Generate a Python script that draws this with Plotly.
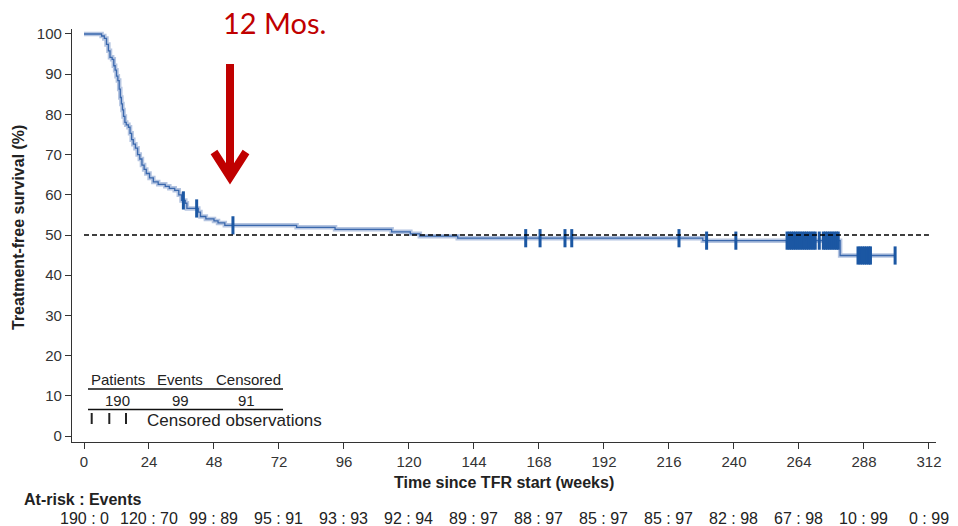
import numpy as np
import plotly.graph_objects as go

# ---------------- data ----------------
step_weeks = [0, 6.5, 7.5, 8.3, 9.0, 9.6, 10.4, 11.0, 11.5, 12.0, 12.5, 13.0, 13.4, 13.8,
              14.2, 14.6, 15.1, 15.6, 16.4, 17.0, 17.6, 18.2, 19.0, 19.8, 20.6, 21.4, 22.2,
              23.0, 24.2, 25.6, 27.4, 30.0, 31.5, 33.5, 35.0, 36.0, 37.4, 38.0, 42.2, 43.0,
              45.0, 48.0, 49.5, 52.0, 78.5, 92.7, 113.6, 120.5, 124.0, 138.0, 228.5, 279.2]
step_surv = [100, 99.5, 98.9, 97.4, 95.8, 94.2, 93.7, 92.1, 91.0, 89.5, 88.4, 86.3, 84.2, 82.6,
             81.1, 79.5, 78.0, 77.4, 76.8, 75.3, 73.7, 72.6, 71.6, 70.0, 68.9, 67.4, 66.3,
             65.3, 64.2, 63.2, 62.6, 62.1, 61.6, 61.1, 60.0, 58.6, 57.9, 56.6, 55.7, 54.6,
             54.0, 53.5, 53.0, 52.4, 51.9, 51.4, 50.8, 50.3, 49.7, 49.2, 48.6, 44.9]
last_followup = 299.5

censor_weeks = [36.7, 41.6, 55.0, 163.1, 168.4, 177.6, 180.1, 219.7, 229.9, 240.7,
                259.6, 260.4, 261.2, 262.0, 262.8, 263.6, 264.4, 265.2, 266.0, 266.8,
                267.6, 268.4, 269.2, 270.0, 271.5, 273.0, 273.8, 274.6, 275.4, 276.2,
                277.0, 277.8, 278.5, 285.8, 286.6, 287.4, 288.2, 289.0, 289.8, 290.4, 299.5]

x_ticks = [0, 24, 48, 72, 96, 120, 144, 168, 192, 216, 240, 264, 288, 312]
y_ticks = [0, 10, 20, 30, 40, 50, 60, 70, 80, 90, 100]
at_risk = [190, 120, 99, 95, 93, 92, 89, 88, 85, 85, 82, 67, 10, 0]
events = [0, 70, 89, 91, 93, 94, 97, 97, 97, 97, 98, 98, 99, 99]

summary_patients, summary_events, summary_censored = 190, 99, 91
reference_level = 50

# ---------------- figure ----------------
W, H = 958, 526
L, R, T, B = 72, 22, 29, 84
PW, PH = W - L - R, H - T - B


def px(xp):
    return (xp - L) / PW


def py(yp):
    return (H - B - yp) / PH


FONT = "Liberation Sans, Arial, sans-serif"
TXT = "#222222"

curve_x = step_weeks + [last_followup]
curve_y = step_surv + [step_surv[-1]]

sw = np.array(step_weeks)
ss = np.array(step_surv)
cens_y = [float(ss[np.searchsorted(sw, t, side="right") - 1]) for t in censor_weeks]

fig = go.Figure()
fig.add_trace(go.Scatter(x=curve_x, y=curve_y, mode="lines", line_shape="hv",
                         line=dict(color="rgba(150,173,212,0.7)", width=4.5),
                         hoverinfo="skip", showlegend=False))
fig.add_trace(go.Scatter(x=curve_x, y=curve_y, mode="lines", line_shape="hv",
                         line=dict(color="#3a68ad", width=1.3),
                         showlegend=False))
fig.add_trace(go.Scatter(x=censor_weeks, y=cens_y, mode="markers",
                         marker=dict(symbol="line-ns", size=13,
                                     line=dict(color="#1b57a3", width=3)),
                         showlegend=False))

shapes = []
# reference line at 50%
shapes.append(dict(type="line", xref="x", yref="y", x0=0, x1=x_ticks[-1],
                   y0=reference_level, y1=reference_level,
                   line=dict(color="black", width=1.3, dash="5px,3px")))

# legend-like box
for yy in (389, 409.5):
    shapes.append(dict(type="line", xref="paper", yref="paper", x0=px(88), x1=px(283),
                       y0=py(yy), y1=py(yy), line=dict(color="#111", width=1.3)))
for xx in (91.7, 109.3, 126):
    shapes.append(dict(type="line", xref="paper", yref="paper", x0=px(xx), x1=px(xx),
                       y0=py(413), y1=py(424), line=dict(color="#222", width=2)))

# red arrow
RED = "#c00000"
shapes.append(dict(type="line", xref="paper", yref="paper", x0=px(230), x1=px(230),
                   y0=py(64), y1=py(176), line=dict(color=RED, width=8)))
shapes.append(dict(type="path", xref="paper", yref="paper",
                   path=f"M {px(214)},{py(152)} L {px(230)},{py(177)} L {px(246)},{py(152)}",
                   line=dict(color=RED, width=8)))


def text(s, xpix, ypix, size, xanchor="center", family=FONT, color=TXT, **kw):
    return dict(text=s, x=px(xpix), y=py(ypix), xref="paper", yref="paper",
                xanchor=xanchor, yanchor="middle", showarrow=False,
                font=dict(family=family, size=size, color=color), **kw)


ann = []
ann.append(text("12 Mos.", 274, 22, 29, family="Lato, Open Sans, sans-serif", color=RED))
for label, cx in (("Patients", 117.5), ("Events", 180.3), ("Censored", 248)):
    ann.append(text(label, cx, 379.5, 15))
for val, cx in ((summary_patients, 117.3), (summary_events, 180), (summary_censored, 246.7)):
    ann.append(text(str(val), cx, 400, 15))
ann.append(text("Censored observations", 145, 420, 17, xanchor="left"))

ann.append(text("<b>Time since TFR start (weeks)</b>", 504, 483, 16))
ann.append(text("<b>Treatment-free survival (%)</b>", 18, 228, 16, textangle=-90))
ann.append(text("<b>At-risk : Events</b>", 22, 500, 16, xanchor="left"))
for t, a, e in zip(x_ticks, at_risk, events):
    ann.append(dict(text=f"{a} : {e}", x=t, y=py(518), xref="x", yref="paper",
                    xanchor="center", yanchor="middle",
                    showarrow=False, font=dict(family=FONT, size=16, color=TXT)))

fig.update_layout(
    width=W, height=H,
    margin=dict(l=L, r=R, t=T, b=B),
    paper_bgcolor="white", plot_bgcolor="white",
    shapes=shapes, annotations=ann,
    xaxis=dict(range=[-4.43, 314.6], tickvals=x_ticks, ticks="outside", ticklen=6,
               tickwidth=1.3, tickcolor="#333", showline=True, linecolor="#333", linewidth=1.3,
               showgrid=False, zeroline=False,
               tickfont=dict(family=FONT, size=15, color="#333")),
    yaxis=dict(range=[-1.49, 101.24], tickvals=y_ticks, ticks="outside", ticklen=6,
               tickwidth=1.3, tickcolor="#333", showline=True, linecolor="#333", linewidth=1.3,
               showgrid=False, zeroline=False,
               tickfont=dict(family=FONT, size=15, color="#333")),
)

fig.write_html("out.html")
